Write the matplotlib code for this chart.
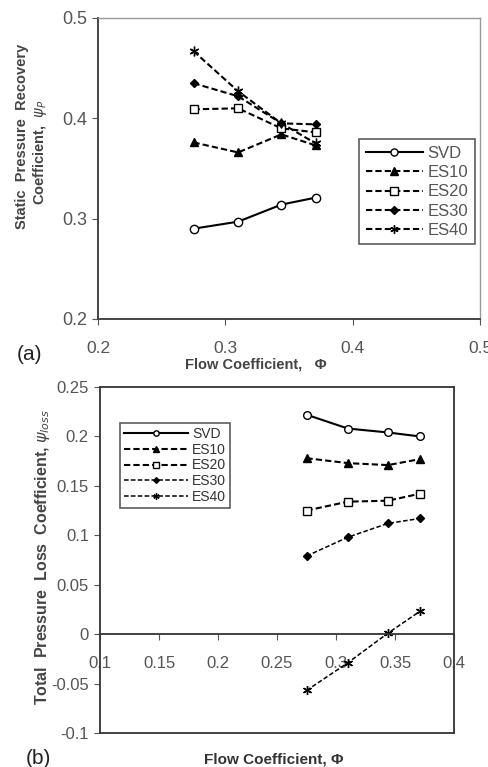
import matplotlib
matplotlib.use("Agg")
import matplotlib.pyplot as plt
from matplotlib.lines import Line2D

plt.rcParams["font.family"] = ["Liberation Sans Narrow", "Liberation Sans", "DejaVu Sans"]

W, H = 488, 767

# ---- data ----
phi = [0.275, 0.31, 0.344, 0.371]
series = ["SVD", "ES10", "ES20", "ES30", "ES40"]

psi_p_svd = [0.290, 0.297, 0.314, 0.321]
psi_p_es10 = [0.376, 0.366, 0.384, 0.373]
psi_p_es20 = [0.409, 0.410, 0.390, 0.386]
psi_p_es30 = [0.435, 0.422, 0.395, 0.394]
psi_p_es40 = [0.467, 0.427, 0.395, 0.375]

psi_loss_svd = [0.222, 0.208, 0.204, 0.200]
psi_loss_es10 = [0.178, 0.173, 0.171, 0.177]
psi_loss_es20 = [0.125, 0.134, 0.135, 0.142]
psi_loss_es30 = [0.079, 0.098, 0.112, 0.117]
psi_loss_es40 = [-0.057, -0.029, 0.001, 0.023]

top_xticks = [0.2, 0.3, 0.4, 0.5]
top_yticks = [0.2, 0.3, 0.4, 0.5]
bot_xticks = [0.1, 0.15, 0.2, 0.25, 0.3, 0.35, 0.4]
bot_yticks = [-0.1, -0.05, 0, 0.05, 0.1, 0.15, 0.2, 0.25]

styles = {
    "SVD": dict(ls="-", marker="o", mfc="white", ms=6),
    "ES10": dict(ls="--", marker="^", mfc="black", ms=6),
    "ES20": dict(ls="--", marker="s", mfc="white", ms=6),
    "ES30": dict(ls="--", marker="D", mfc="black", ms=4.5),
    "ES40": dict(ls="--", marker=(6, 2, 0), mfc="black", ms=7),
}
TICK_C = "#555555"


def px_axes(fig, x0, y0, x1, y1):
    return fig.add_axes([x0 / W, 1 - y1 / H, (x1 - x0) / W, (y1 - y0) / H])


fig = plt.figure(figsize=(W / 100, H / 100), dpi=100)

# ---- (a) static pressure recovery ----
ax = px_axes(fig, 98, 18, 480, 319)
for name, vals in zip(series, [psi_p_svd, psi_p_es10, psi_p_es20, psi_p_es30, psi_p_es40]):
    st = styles[name]
    ax.plot(phi, vals, color="black", lw=1.5, ls=st["ls"], marker=st["marker"],
            mfc=st["mfc"], mec="black", ms=st["ms"], mew=1.0, label=name,
            dashes=(3, 1.5) if st["ls"] == "--" else (None, None))
ax.set_xlim(0.2, 0.5)
ax.set_ylim(0.2, 0.5)
ax.set_xticks(top_xticks)
ax.set_yticks(top_yticks)
ax.set_xticklabels([f"{t:g}" for t in top_xticks])
ax.set_yticklabels([f"{t:g}" for t in top_yticks])
ax.tick_params(axis="x", direction="out", length=4, pad=12, labelsize=12.5, colors=TICK_C)
ax.tick_params(axis="y", direction="out", length=4, pad=4, labelsize=13, colors=TICK_C)
for sp in ax.spines.values():
    sp.set_color("#999999")
    sp.set_linewidth(1.0)
ax.spines["left"].set_color("#444444")
ax.spines["bottom"].set_color("#444444")
ax.spines["left"].set_linewidth(1.4)
ax.spines["bottom"].set_linewidth(1.4)
leg = ax.legend(loc="upper left", bbox_to_anchor=((351 - 98) / 382, 1 - (131 - 18) / 301),
                fontsize=12, frameon=True, fancybox=False, handlelength=3.4,
                handletextpad=0.3, borderpad=0.4, labelspacing=0.25,
                labelcolor=TICK_C, markerscale=0.85)
leg.get_frame().set_edgecolor("#333333")
leg.get_frame().set_linewidth(1.2)

fig.text(22 / W, 1 - 136 / H, "Static  Pressure  Recovery", rotation=90, ha="center",
         va="center", fontsize=10.5, fontweight="bold", color="#444444")
fig.text(40 / W, 1 - 152 / H, r"Coefficient,  $\psi_P$", rotation=90, ha="center",
         va="center", fontsize=10.5, fontweight="bold", color="#444444")
fig.text(256 / W, 1 - 364 / H, "Flow Coefficient,   Φ", ha="center", va="center",
         fontsize=10.5, fontweight="bold", color="#444444")
fig.text(30 / W, 1 - 355 / H, "(a)", ha="center", va="center", fontsize=15, color="#222222")

# ---- (b) total pressure loss ----
bx = px_axes(fig, 100, 387, 454, 733)
for name, vals in zip(series, [psi_loss_svd, psi_loss_es10, psi_loss_es20, psi_loss_es30, psi_loss_es40]):
    st = styles[name]
    lw = 1.5 if name in ("SVD", "ES10", "ES20") else 1.1
    bx.plot(phi, vals, color="black", lw=lw, ls=st["ls"], marker=st["marker"],
            mfc=st["mfc"], mec="black", ms=st["ms"] * 0.92, mew=1.0, label=name,
            dashes=(3, 1.5) if st["ls"] == "--" else (None, None))
bx.set_xlim(0.1, 0.4)
bx.set_ylim(-0.1, 0.25)
bx.set_xticks(bot_xticks)
bx.set_yticks(bot_yticks)
bx.set_xticklabels([f"{t:g}" for t in bot_xticks])
bx.set_yticklabels([f"{t:g}" for t in bot_yticks])
bx.spines["bottom"].set_position(("data", 0))
bx.tick_params(axis="x", direction="out", length=4, pad=12, labelsize=12, colors=TICK_C)
bx.tick_params(axis="y", direction="out", length=4, pad=4, labelsize=12, colors=TICK_C)
for sp in bx.spines.values():
    sp.set_color("#333333")
    sp.set_linewidth(1.3)
bx.add_line(Line2D([0, 1], [0, 0], transform=bx.transAxes, color="#333333",
                   lw=1.3, clip_on=False))
leg2 = bx.legend(loc="upper left", bbox_to_anchor=((113 - 100) / 354, 1 - (416 - 387) / 346),
                 fontsize=10, frameon=True, fancybox=False, handlelength=4.6,
                 handletextpad=0.3, borderpad=0.3, labelspacing=0.12,
                 labelcolor="#333333", markerscale=0.7)
leg2.get_frame().set_edgecolor("#333333")
leg2.get_frame().set_linewidth(1.2)

fig.text(43 / W, 1 - 557 / H, r"Total  Pressure  Loss  Coefficient, $\psi_{loss}$",
         rotation=90, ha="center", va="center", fontsize=11.5, fontweight="bold",
         color="#444444")
fig.text(274 / W, 1 - 760 / H, "Flow Coefficient, Φ", ha="center", va="center",
         fontsize=11, fontweight="bold", color="#333333")
fig.text(38 / W, 1 - 758 / H, "(b)", ha="center", va="center", fontsize=15, color="#222222")

fig.savefig("out.png", dpi=100)
